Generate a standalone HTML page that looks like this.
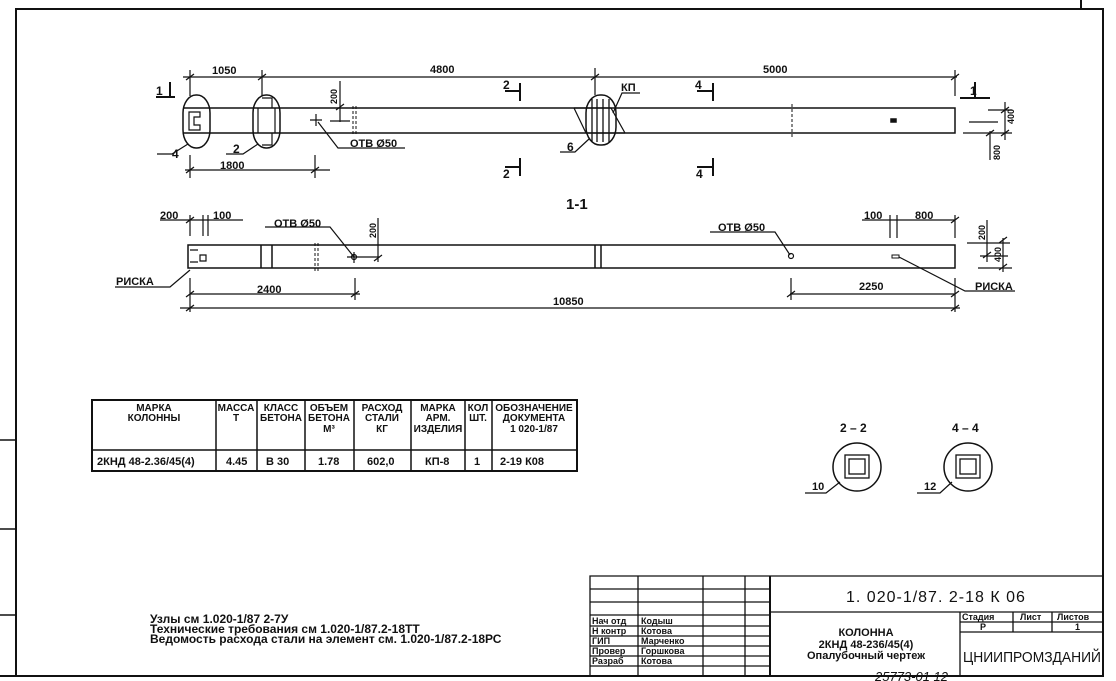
<!DOCTYPE html>
<html><head><meta charset="utf-8"><style>
html,body{margin:0;padding:0;background:#fff;}
svg{display:block;}
text{font-family:"Liberation Sans Narrow","Liberation Sans","DejaVu Sans",sans-serif;font-weight:bold;fill:#111;}
</style></head><body>
<svg width="1116" height="681" viewBox="0 0 1116 681" xmlns="http://www.w3.org/2000/svg">
<g stroke="#111" fill="none" stroke-width="1.5">
<path d="M16 676 V9 H1103 V676 Z" stroke-width="2"/>
<path d="M1081 9 V0" stroke-width="2"/>
<path d="M0 440 H16 M0 529 H16 M0 615 H16" stroke-width="1.5"/>

<path d="M183 108 H955 V133 H183"/>
<rect x="183" y="95" width="27" height="53" rx="13" ry="18"/>
<path d="M189 112 H200 V117 H194 V125 H200 V130 H189 Z" stroke-width="1.2"/>
<rect x="253" y="95" width="27" height="53" rx="13" ry="18"/>
<path d="M258 108 V133 M275 108 V133 M262 98 H272 V108 M262 145 H272 V133" stroke-width="1.2"/>
<path d="M157 154 H172 L188 144 M226 154 H243 L258 144" stroke-width="1.2"/>
<path d="M156 97 H175 M170 82 V96" stroke-width="2"/>
<path d="M183 77 H957 M190 70 V96 M262 70 V96 M595 68 V95 M955 70 V96" stroke-width="1.2"/>
<path d="M186 80 L194 74 M258 80 L266 74 M591 80 L599 74 M951 80 L959 74" stroke-width="1.2"/>
<path d="M185 170 H330 M190 155 V178 M315 155 V178 M186 173 L194 167 M311 173 L319 167" stroke-width="1.2"/>
<path d="M340 81 V122 M330 121 H350 M336 110 L344 104" stroke-width="1.2"/>
<path d="M353 106 V135 M356 106 V135" stroke-width="1" stroke-dasharray="3 2"/>
<path d="M310 120 H322 M316 114 V126" stroke-width="1.2"/>
<path d="M318 122 L338 148 H405" stroke-width="1.2"/>
<path d="M520 83 V101 M505 91 H520 M520 158 V176 M505 167 H520" stroke-width="2"/>
<path d="M713 83 V101 M697 91 H713 M713 158 V176 M697 167 H713" stroke-width="2"/>
<rect x="586" y="95" width="30" height="50" rx="14" ry="18"/>
<path d="M574 108 L586 133 M611 108 L625 133 M574 108 H611 M586 133 H625" stroke-width="1.2"/>
<path d="M592 99 V142 M597 99 V142 M603 99 V142 M609 99 V142" stroke-width="1.3"/>
<path d="M613 113 L622 93 H640 M589 139 L575 152 H560" stroke-width="1.2"/>
<path d="M792 104 V137" stroke-width="1" stroke-dasharray="3 2"/>
<rect x="891" y="119" width="5" height="3" fill="#111"/>
<path d="M960 98 H990 M975 82 V97" stroke-width="2"/>
<path d="M988 110 H1012 M969 122 H998 M963 133 H1012 M1005 102 V140 M1001 113 L1009 107 M1001 136 L1009 130 M990 131 V160 M986 136 L994 130" stroke-width="1.2"/>

<path d="M188 245 H955 V268 H188 Z"/>
<path d="M261 245 V268 M272 245 V268 M595 245 V268 M601 245 V268" stroke-width="1.5"/>
<path d="M315 243 V272 M318 243 V272" stroke-width="1" stroke-dasharray="3 2"/>
<path d="M190 250 H198 M190 262 H198 M200 255 H206 V261 H200 Z" stroke-width="1.2"/>
<path d="M160 220 H243 M190 215 V236 M203 215 V236 M208 215 V236 M186 223 L194 217" stroke-width="1.2"/>
<path d="M265 227 H330 L354 257" stroke-width="1.2"/>
<circle cx="354" cy="257" r="2.5" stroke-width="1.2"/>
<path d="M347 257 H380 M378 218 V262 M374 261 L382 255 M354 252 V263" stroke-width="1.2"/>
<path d="M710 232 H775 L790 255" stroke-width="1.2"/>
<circle cx="791" cy="256" r="2.5" stroke-width="1.2"/>
<path d="M862 220 H955 M890 215 V238 M897 215 V238 M955 215 V238 M951 223 L959 217" stroke-width="1.2"/>
<rect x="892" y="255" width="7" height="3" stroke-width="1"/>
<path d="M899 257 L965 291 H1015" stroke-width="1.2"/>
<path d="M967 243 H1010 M980 256 H1008 M978 268 H1012 M987 220 V262 M1003 238 V272 M983 258 L991 252 M999 270 L1007 264 M999 243 L1007 237" stroke-width="1.2"/>
<path d="M115 287 H170 L190 270" stroke-width="1.2"/>
<path d="M190 294 H360 M190 278 V312 M355 278 V300 M186 297 L194 291 M351 297 L359 291" stroke-width="1.2"/>
<path d="M790 294 H955 M791 278 V300 M955 278 V312 M787 297 L795 291 M951 297 L959 291" stroke-width="1.2"/>
<path d="M180 308 H960 M186 311 L194 305 M951 311 L959 305" stroke-width="1.2"/>

<rect x="92" y="400" width="485" height="71" stroke-width="2"/>
<path d="M92 450 H577 M216 400 V471 M257 400 V471 M305 400 V471 M354 400 V471 M411 400 V471 M465 400 V471 M492 400 V471" stroke-width="1.5"/>

<circle cx="857" cy="467" r="24"/>
<rect x="845" y="455" width="24" height="23" stroke-width="1.3"/>
<rect x="849" y="459" width="16" height="15" stroke-width="1.3"/>
<path d="M805 493 H826 L840 482" stroke-width="1.2"/>
<circle cx="968" cy="467" r="24"/>
<rect x="956" y="455" width="24" height="23" stroke-width="1.3"/>
<rect x="960" y="459" width="16" height="15" stroke-width="1.3"/>
<path d="M917 493 H940 L952 482" stroke-width="1.2"/>

<path d="M590 676 V576 H1103 M590 589 H770 M590 602 H770 M590 615 H770 M590 626 H770 M590 636 H770 M590 646 H770 M590 656 H770 M590 666 H770" stroke-width="1.3"/>
<path d="M638 576 V676 M703 576 V676 M745 576 V676" stroke-width="1.3"/>
<path d="M770 576 V676" stroke-width="2"/>
<path d="M770 612 H1103 M960 622 H1103 M960 632 H1103 M960 612 V676 M1013 612 V632 M1052 612 V632" stroke-width="1.3"/>
<path d="M0 676 H1103" stroke-width="2"/>
</g>

<g font-size="11">
<text x="212" y="74">1050</text>
<text x="430" y="73">4800</text>
<text x="763" y="73">5000</text>
<text x="220" y="169">1800</text>
<text x="156" y="95" font-size="12">1</text>
<text x="970" y="95" font-size="12">1</text>
<text x="350" y="147">ОТВ Ø50</text>
<text x="172" y="158" font-size="12">4</text>
<text x="233" y="153" font-size="12">2</text>
<text x="567" y="151" font-size="12">6</text>
<text x="621" y="91">КП</text>
<text x="503" y="89" font-size="12">2</text>
<text x="503" y="178" font-size="12">2</text>
<text x="695" y="89" font-size="12">4</text>
<text x="696" y="178" font-size="12">4</text>
<text x="0" y="0" font-size="9" transform="translate(337,104) rotate(-90)">200</text>
<text x="0" y="0" font-size="9" transform="translate(1014,124) rotate(-90)">400</text>
<text x="0" y="0" font-size="9" transform="translate(1000,160) rotate(-90)">800</text>
<text x="566" y="209" font-size="15">1-1</text>
<text x="160" y="219">200</text>
<text x="213" y="219">100</text>
<text x="274" y="227">ОТВ Ø50</text>
<text x="0" y="0" font-size="9" transform="translate(376,238) rotate(-90)">200</text>
<text x="718" y="231">ОТВ Ø50</text>
<text x="864" y="219">100</text>
<text x="915" y="219">800</text>
<text x="0" y="0" font-size="9" transform="translate(985,240) rotate(-90)">200</text>
<text x="0" y="0" font-size="9" transform="translate(1001,262) rotate(-90)">400</text>
<text x="116" y="285">РИСКА</text>
<text x="975" y="290">РИСКА</text>
<text x="257" y="293">2400</text>
<text x="859" y="290">2250</text>
<text x="553" y="305">10850</text>
</g>

<g font-size="10" text-anchor="middle">
<text x="154" y="411">МАРКА</text><text x="154" y="421">КОЛОННЫ</text>
<text x="236" y="411">МАССА</text><text x="236" y="421">Т</text>
<text x="281" y="411">КЛАСС</text><text x="281" y="421">БЕТОНА</text>
<text x="329" y="411">ОБЪЕМ</text><text x="329" y="421">БЕТОНА</text><text x="329" y="432">М³</text>
<text x="382" y="411">РАСХОД</text><text x="382" y="421">СТАЛИ</text><text x="382" y="432">КГ</text>
<text x="438" y="411">МАРКА</text><text x="438" y="421">АРМ.</text><text x="438" y="432">ИЗДЕЛИЯ</text>
<text x="478" y="411">КОЛ</text><text x="478" y="421">ШТ.</text>
<text x="534" y="411">ОБОЗНАЧЕНИЕ</text><text x="534" y="421">ДОКУМЕНТА</text><text x="534" y="432">1 020-1/87</text>
</g>
<g font-size="11">
<text x="97" y="465">2КНД 48-2.36/45(4)</text>
<text x="226" y="465">4.45</text>
<text x="266" y="465">В 30</text>
<text x="318" y="465">1.78</text>
<text x="367" y="465">602,0</text>
<text x="425" y="465">КП-8</text>
<text x="474" y="465">1</text>
<text x="500" y="465">2-19 К08</text>
<text x="840" y="432" font-size="12">2 – 2</text>
<text x="952" y="432" font-size="12">4 – 4</text>
<text x="812" y="490">10</text>
<text x="924" y="490">12</text>
</g>

<g font-size="12">
<text x="150" y="623">Узлы см 1.020-1/87 2-7У</text>
<text x="150" y="633">Технические требования см 1.020-1/87.2-18ТТ</text>
<text x="150" y="643">Ведомость расхода стали на элемент см. 1.020-1/87.2-18РС</text>
</g>

<g font-size="9">
<text x="592" y="624">Нач отд</text><text x="641" y="624">Кодыш</text>
<text x="592" y="634">Н контр</text><text x="641" y="634">Котова</text>
<text x="592" y="644">ГИП</text><text x="641" y="644">Марченко</text>
<text x="592" y="654">Провер</text><text x="641" y="654">Горшкова</text>
<text x="592" y="664">Разраб</text><text x="641" y="664">Котова</text>
<text x="962" y="620">Стадия</text><text x="1020" y="620">Лист</text><text x="1057" y="620">Листов</text>
<text x="980" y="630">Р</text><text x="1075" y="630">1</text>
</g>
<text x="846" y="602" font-size="16" style="font-weight:normal;letter-spacing:1px">1. 020-1/87. 2-18 К 06</text>
<g font-size="11" text-anchor="middle">
<text x="866" y="636">КОЛОННА</text>
<text x="866" y="648">2КНД 48-236/45(4)</text>
<text x="866" y="659">Опалубочный чертеж</text>
</g>
<text x="963" y="662" font-size="15" textLength="138" lengthAdjust="spacingAndGlyphs" style="font-weight:normal">ЦНИИПРОМЗДАНИЙ</text>
<text x="875" y="681" font-size="13" style="font-weight:normal;font-style:italic">25773-01   12</text>
</svg>
</body></html>
